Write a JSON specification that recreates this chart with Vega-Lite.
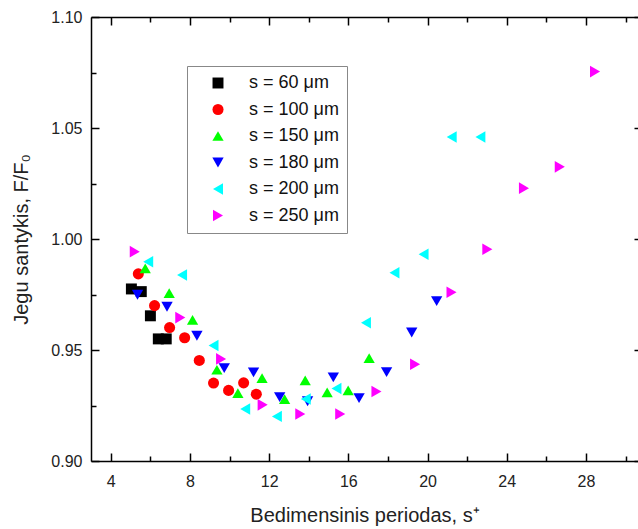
{
  "$schema": "https://vega.github.io/schema/vega-lite/v6.json",
  "width": 547,
  "height": 444,
  "autosize": {"type": "none"},
  "padding": {"left": 91, "top": 17, "right": 0, "bottom": 68},
  "background": "white",
  "config": {
    "view": {"stroke": null},
    "font": "Liberation Sans",
    "axis": {"grid": false, "domainColor": "#000", "tickColor": "#000", "domainWidth": 1.5, "tickWidth": 1.5, "labelColor": "#222", "titleColor": "#222", "labelFont": "Liberation Sans", "titleFont": "Liberation Sans", "titleFontWeight": "normal"}
  },
  "data": {"values": [
    {"series": "s = 60 μm", "x": 5.04, "y": 0.9775},
    {"series": "s = 60 μm", "x": 5.54, "y": 0.9763},
    {"series": "s = 60 μm", "x": 6.0, "y": 0.9654},
    {"series": "s = 60 μm", "x": 6.4, "y": 0.955},
    {"series": "s = 60 μm", "x": 6.8, "y": 0.955},
    {"series": "s = 100 μm", "x": 5.39, "y": 0.9843},
    {"series": "s = 100 μm", "x": 6.21, "y": 0.970},
    {"series": "s = 100 μm", "x": 6.97, "y": 0.9601},
    {"series": "s = 100 μm", "x": 7.73, "y": 0.9555},
    {"series": "s = 100 μm", "x": 8.47, "y": 0.9453},
    {"series": "s = 100 μm", "x": 9.19, "y": 0.9351},
    {"series": "s = 100 μm", "x": 9.95, "y": 0.9318},
    {"series": "s = 100 μm", "x": 10.71, "y": 0.9352},
    {"series": "s = 100 μm", "x": 11.35, "y": 0.9301},
    {"series": "s = 150 μm", "x": 5.74, "y": 0.9868},
    {"series": "s = 150 μm", "x": 6.95, "y": 0.9756},
    {"series": "s = 150 μm", "x": 8.13, "y": 0.9636},
    {"series": "s = 150 μm", "x": 9.36, "y": 0.9411},
    {"series": "s = 150 μm", "x": 10.42, "y": 0.9306},
    {"series": "s = 150 μm", "x": 11.64, "y": 0.9373},
    {"series": "s = 150 μm", "x": 12.78, "y": 0.9279},
    {"series": "s = 150 μm", "x": 13.82, "y": 0.9363},
    {"series": "s = 150 μm", "x": 14.93, "y": 0.9309},
    {"series": "s = 150 μm", "x": 15.99, "y": 0.9318},
    {"series": "s = 150 μm", "x": 17.05, "y": 0.9463},
    {"series": "s = 180 μm", "x": 5.35, "y": 0.9749},
    {"series": "s = 180 μm", "x": 6.84, "y": 0.9695},
    {"series": "s = 180 μm", "x": 8.35, "y": 0.9564},
    {"series": "s = 180 μm", "x": 9.73, "y": 0.9418},
    {"series": "s = 180 μm", "x": 11.21, "y": 0.9399},
    {"series": "s = 180 μm", "x": 12.53, "y": 0.9288},
    {"series": "s = 180 μm", "x": 13.94, "y": 0.9269},
    {"series": "s = 180 μm", "x": 15.24, "y": 0.9377},
    {"series": "s = 180 μm", "x": 16.54, "y": 0.9283},
    {"series": "s = 180 μm", "x": 17.93, "y": 0.940},
    {"series": "s = 180 μm", "x": 19.2, "y": 0.9579},
    {"series": "s = 180 μm", "x": 20.46, "y": 0.972},
    {"series": "s = 200 μm", "x": 5.89, "y": 0.9898},
    {"series": "s = 200 μm", "x": 7.6, "y": 0.9838},
    {"series": "s = 200 μm", "x": 9.19, "y": 0.952},
    {"series": "s = 200 μm", "x": 10.79, "y": 0.9234},
    {"series": "s = 200 μm", "x": 12.39, "y": 0.9201},
    {"series": "s = 200 μm", "x": 13.85, "y": 0.9279},
    {"series": "s = 200 μm", "x": 15.4, "y": 0.9327},
    {"series": "s = 200 μm", "x": 16.89, "y": 0.9623},
    {"series": "s = 200 μm", "x": 18.33, "y": 0.9848},
    {"series": "s = 200 μm", "x": 19.8, "y": 0.9931},
    {"series": "s = 200 μm", "x": 21.22, "y": 1.046},
    {"series": "s = 200 μm", "x": 22.67, "y": 1.046},
    {"series": "s = 250 μm", "x": 5.21, "y": 0.9943},
    {"series": "s = 250 μm", "x": 7.51, "y": 0.9646},
    {"series": "s = 250 μm", "x": 9.57, "y": 0.946},
    {"series": "s = 250 μm", "x": 11.67, "y": 0.9253},
    {"series": "s = 250 μm", "x": 13.57, "y": 0.9212},
    {"series": "s = 250 μm", "x": 15.59, "y": 0.9212},
    {"series": "s = 250 μm", "x": 17.42, "y": 0.9313},
    {"series": "s = 250 μm", "x": 19.37, "y": 0.9436},
    {"series": "s = 250 μm", "x": 21.21, "y": 0.976},
    {"series": "s = 250 μm", "x": 23.02, "y": 0.9954},
    {"series": "s = 250 μm", "x": 24.87, "y": 1.0229},
    {"series": "s = 250 μm", "x": 26.68, "y": 1.0325},
    {"series": "s = 250 μm", "x": 28.46, "y": 1.0754}
  ]},
  "layer": [
    {
      "mark": {"type": "point", "filled": true, "opacity": 1},
      "encoding": {
        "x": {"field": "x", "type": "quantitative", "scale": {"domain": [3, 30.63], "nice": false, "zero": false},
          "axis": {"orient": "bottom", "values": [4, 8, 12, 16, 20, 24, 28], "tickSize": -8, "labelPadding": 20, "labelFontSize": 16, "title": "Bedimensinis periodas, s⁺", "titleFontSize": 20, "titlePadding": 16}},
        "y": {"field": "y", "type": "quantitative", "scale": {"domain": [0.9, 1.1], "nice": false, "zero": false},
          "axis": {"orient": "left", "values": [0.9, 0.95, 1.0, 1.05, 1.1], "format": ".2f", "tickSize": -8, "labelPadding": 17, "labelFontSize": 16, "title": "Jegu santykis, F/F₀", "titleFontSize": 20, "titlePadding": 19}},
        "size": {"field": "series", "type": "nominal", "legend": null,
          "scale": {"domain": ["s = 60 μm", "s = 100 μm", "s = 150 μm", "s = 180 μm", "s = 200 μm", "s = 250 μm"], "range": [120, 135, 200, 200, 200, 200]}},
        "color": {"field": "series", "type": "nominal",
          "scale": {"domain": ["s = 60 μm", "s = 100 μm", "s = 150 μm", "s = 180 μm", "s = 200 μm", "s = 250 μm"], "range": ["#000000", "#ff0000", "#00ff00", "#0000ff", "#00ffff", "#ff00ff"]},
          "legend": {"title": null, "orient": "none", "legendX": 96, "legendY": 49, "padding": 8, "strokeColor": "#888", "fillColor": "white", "symbolOffset": 14, "labelOffset": 22, "labelFontSize": 18, "labelColor": "#111", "labelFont": "Liberation Sans", "symbolSize": 110, "rowPadding": 8.5}},
        "shape": {"field": "series", "type": "nominal",
          "scale": {"domain": ["s = 60 μm", "s = 100 μm", "s = 150 μm", "s = 180 μm", "s = 200 μm", "s = 250 μm"], "range": ["square", "circle", "triangle-up", "triangle-down", "triangle-left", "triangle-right"]}}
      }
    },
    {
      "mark": {"type": "point", "opacity": 0},
      "encoding": {
        "x": {"field": "x", "type": "quantitative", "scale": {"domain": [3, 30.63], "nice": false, "zero": false},
          "axis": {"orient": "bottom", "values": [6, 10, 14, 18, 22, 26, 30], "tickSize": -5, "labels": false, "domain": false, "title": null}},
        "y": {"field": "y", "type": "quantitative", "scale": {"domain": [0.9, 1.1], "nice": false, "zero": false},
          "axis": {"orient": "left", "values": [0.925, 0.975, 1.025, 1.075], "tickSize": -5, "labels": false, "domain": false, "title": null}}
      }
    },
    {
      "mark": {"type": "point", "opacity": 0},
      "encoding": {
        "x": {"field": "x", "type": "quantitative", "scale": {"domain": [3, 30.63], "nice": false, "zero": false},
          "axis": {"orient": "top", "values": [4, 8, 12, 16, 20, 24, 28], "tickSize": -8, "labels": false, "domain": true, "title": null}},
        "y": {"field": "y", "type": "quantitative", "scale": {"domain": [0.9, 1.1], "nice": false, "zero": false},
          "axis": {"orient": "right", "values": [0.9, 0.95, 1.0, 1.05, 1.1], "tickSize": -4, "labels": false, "domain": false, "title": null}}
      }
    },
    {
      "mark": {"type": "point", "opacity": 0},
      "encoding": {
        "x": {"field": "x", "type": "quantitative", "scale": {"domain": [3, 30.63], "nice": false, "zero": false},
          "axis": {"orient": "top", "values": [6, 10, 14, 18, 22, 26, 30], "tickSize": -5, "labels": false, "domain": false, "title": null}}
      }
    }
  ],
  "resolve": {"axis": {"x": "independent", "y": "independent"}}
}
